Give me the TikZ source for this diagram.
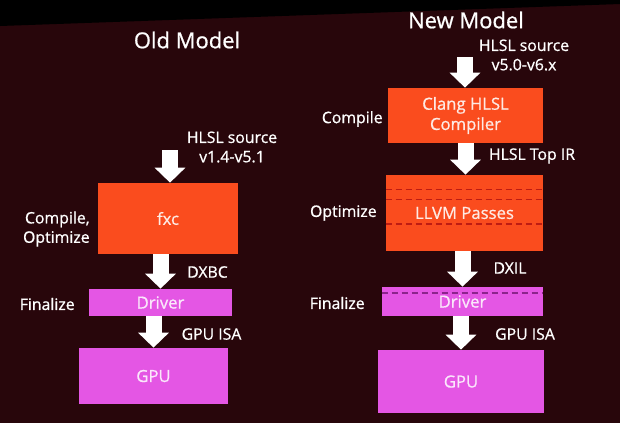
\documentclass[tikz,border=0pt]{standalone}
\usepackage{fontspec}
\setmainfont{Open Sans}[FakeBold=0.8]
\usetikzlibrary{arrows.meta,positioning,calc}
\definecolor{slide}{RGB}{40,6,11}
\definecolor{flame}{RGB}{250,76,30}
\definecolor{orchid}{RGB}{228,86,228}
\definecolor{ember}{RGB}{190,28,18}
\definecolor{plum}{RGB}{140,36,140}

\begin{document}
\begin{tikzpicture}[x=0.2mm,y=-0.2mm, every node/.style={align=center,inner sep=0pt,text=white,font=\fontsize{9}{11}\selectfont}, title/.style={font=\fontsize{12.5}{14}\selectfont}, stage/.style={rectangle,fill=flame,text=white!88!flame,font=\fontsize{9.5}{11.5}\selectfont}, hw/.style={rectangle,fill=orchid,text=white!85!orchid,font=\fontsize{9.5}{11.5}\selectfont}, flow/.style={white,line width=3.2mm,-{Triangle[width=6mm,length=3mm]}}, sep/.style={ember,thick,dash pattern=on 1.2mm off 0.8mm}]
  \fill[slide] (0,0) rectangle (620,423);
  \fill[black] (0,0) -- (620,0) -- (620,4) -- (0,26) -- cycle;
  % old model
  \node[title] (oldt) at (187,40) {Old Model};
  \node[stage,minimum width=28mm,minimum height=14.2mm] (fxc) at (168,218.5) {fxc};
  \node[hw,minimum width=28.6mm,minimum height=5.4mm] (drv1) at (160.5,302.5) {Driver};
  \node[hw,minimum width=29.8mm,minimum height=11.2mm] (gpu1) at (153.5,376) {GPU};
  \coordinate (src1) at (170,150);
  \node (hlsl1) at (232,147) {HLSL source\\v1.4-v5.1};
  \node[anchor=east,align=right] (comp1) at (90,229) {Compile,\\Optimize};
  \node[anchor=east] (fin1) at (75,304) {Finalize};
  \node (dxbc) at (207.5,272) {DXBC};
  \node (isa1) at (211.5,334) {GPU ISA};
  \draw[flow] (src1) -- (src1 |- fxc.north);
  \draw[flow] (drv1.north |- fxc.south) -- (drv1.north);
  \draw[flow] (gpu1.north |- drv1.south) -- (gpu1.north);
  % new model
  \node[title] (newt) at (466,20) {New Model};
  \node[stage,minimum width=31mm,minimum height=11mm] (clang) at (465.5,115.5) {Clang HLSL\\Compiler};
  \node[stage,minimum width=31.4mm,minimum height=15.2mm] (llvm) at (464.5,213) {LLVM Passes};
  \node[hw,minimum width=32.2mm,minimum height=5.8mm] (drv2) at (462.5,301.5) {Driver};
  \node[hw,minimum width=33.2mm,minimum height=12.6mm] (gpu2) at (461,381.5) {GPU};
  \coordinate (src2) at (465,57);
  \node (hlsl2) at (524,55) {HLSL source\\v5.0-v6.x};
  \node[anchor=east] (comp2) at (383,119) {Compile};
  \node[anchor=east] (opt2) at (377,213) {Optimize};
  \node[anchor=east] (fin2) at (365,303) {Finalize};
  \node (topir) at (532,156) {HLSL Top IR};
  \node (dxil) at (510,268) {DXIL};
  \node (isa2) at (525,334) {GPU ISA};
  \draw[sep] ($(llvm.north west)+(0,15)$) -- ($(llvm.north east)+(0,15)$);
  \draw[sep] ($(llvm.north west)+(0,25)$) -- ($(llvm.north east)+(0,25)$);
  \draw[sep] ($(llvm.north west)+(0,49.5)$) -- ($(llvm.north east)+(0,49.5)$);
  \draw[sep,plum] ($(drv2.north west)+(0,6.5)$) -- ($(drv2.north east)+(0,6.5)$);
  \draw[flow] (src2) -- (src2 |- clang.north);
  \draw[flow] (clang.south) -- (clang.south |- llvm.north);
  \draw[flow] (drv2.north |- llvm.south) -- (drv2.north);
  \draw[flow] (gpu2.north |- drv2.south) -- (gpu2.north);
\end{tikzpicture}
\end{document}
